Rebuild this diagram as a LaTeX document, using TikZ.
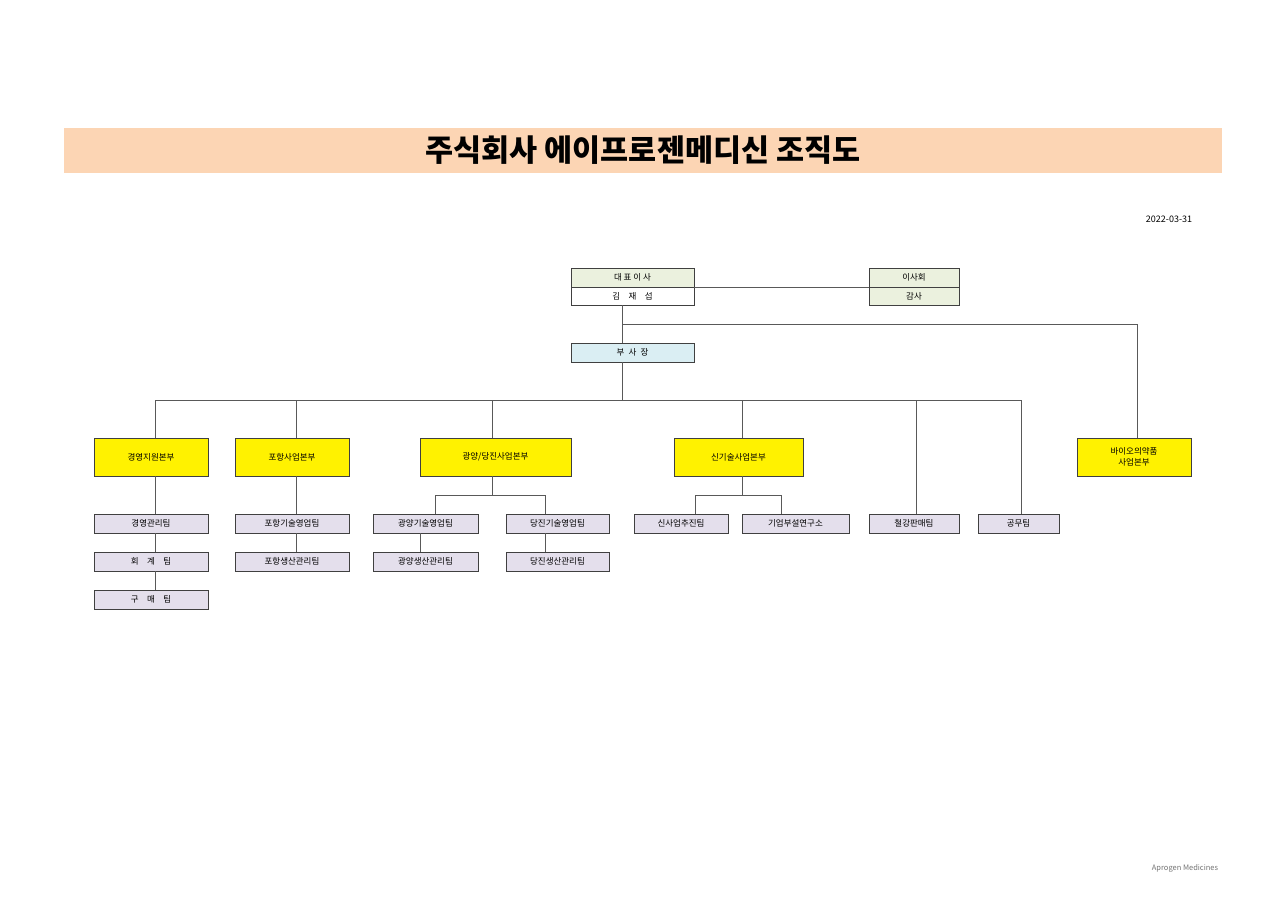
\documentclass[tikz,border=0pt]{standalone}
\usepackage{fontspec}
\setmainfont{Noto Sans CJK KR}
\begin{document}
\begin{tikzpicture}[x=1pt,y=-1pt,
 bx/.style={draw=black!75,line width=0.7pt,font=\fontsize{8.5}{10.5}\selectfont,inner sep=0pt,align=center},
 ln/.style={draw=black!65,line width=0.7pt}]
\definecolor{peach}{HTML}{FCD5B4}\definecolor{grn}{HTML}{EBF1DE}\definecolor{blu}{HTML}{DAEEF3}\definecolor{lav}{HTML}{E4DFEC}
\useasboundingbox (0,0) rectangle (1284,902);
\fill[peach] (64,128) rectangle (1222,173);
\node[font=\fontsize{30.5}{34}\selectfont\bfseries] (title) at (643,150) {주식회사 에이프로젠메디신 조직도};
\node[font=\fontsize{9}{10}\selectfont] (date) at (1169,219) {2022-03-31};
\node[font=\fontsize{7.5}{9}\selectfont,text=black!55] (foot) at (1185,868) {Aprogen Medicines};
\newcommand{\bxx}[7]{\node[bx,fill=#6,minimum width=#3-#2,minimum height=#5-#4] (#1) at ({(#2+#3)/2},{(#4+#5)/2}) {#7};}
% top
\bxx{ceo}{571}{694}{268}{287}{grn}{대 표 이 사}
\bxx{ceon}{571}{694}{287}{305}{white}{김\quad 재\quad 섭}
\bxx{brd}{869}{959}{268}{287}{grn}{이사회}
\bxx{aud}{869}{959}{287}{305}{grn}{감사}
\bxx{vp}{571}{694}{343}{362}{blu}{부\enspace 사\enspace 장}
\draw[ln] (ceo.south east) -- (brd.south west);
\coordinate (j1) at (622,324);
\draw[ln] (ceon.south -| j1) -- (vp.north -| j1);
% HQs
\bxx{h1}{94}{208}{438}{476}{yellow}{경영지원본부}
\bxx{h2}{235}{349}{438}{476}{yellow}{포항사업본부}
\bxx{h3}{420}{571}{438}{476}{yellow}{광양/당진사업본부}
\bxx{h4}{674}{803}{438}{476}{yellow}{신기술사업본부}
\bxx{h5}{1077}{1191}{438}{476}{yellow}{바이오의약품\\사업본부}
\draw[ln] (j1) -- (1137,324) -- (1137,438);
% teams
\bxx{t1}{94}{208}{514}{533}{lav}{경영관리팀}
\bxx{t2}{94}{208}{552}{571}{lav}{회\quad 계\quad 팀}
\bxx{t3}{94}{208}{590}{609}{lav}{구\quad 매\quad 팀}
\bxx{p1}{235}{349}{514}{533}{lav}{포항기술영업팀}
\bxx{p2}{235}{349}{552}{571}{lav}{포항생산관리팀}
\bxx{g1}{373}{478}{514}{533}{lav}{광양기술영업팀}
\bxx{g2}{373}{478}{552}{571}{lav}{광양생산관리팀}
\bxx{d1}{506}{609}{514}{533}{lav}{당진기술영업팀}
\bxx{d2}{506}{609}{552}{571}{lav}{당진생산관리팀}
\bxx{n1}{634}{728}{514}{533}{lav}{신사업추진팀}
\bxx{n2}{742}{849}{514}{533}{lav}{기업부설연구소}
\bxx{s1}{869}{959}{514}{533}{lav}{철강판매팀}
\bxx{s2}{978}{1059}{514}{533}{lav}{공무팀}
% bus
\draw[ln] (622,362) -- (622,400);
\draw[ln] (155,400) -- (1021,400);
\foreach \x in {155,296,492,742}{\draw[ln] (\x,400) -- (\x,438);}
\foreach \x in {916,1021}{\draw[ln] (\x,400) -- (\x,514);}
\draw[ln] (155,476) -- (155,514); \draw[ln] (155,533) -- (155,552); \draw[ln] (155,571) -- (155,590);
\draw[ln] (296,476) -- (296,514); \draw[ln] (296,533) -- (296,552);
\draw[ln] (492,476) -- (492,495);
\draw[ln] (435,514) -- (435,495) -- (545,495) -- (545,514);
\draw[ln] (420,533) -- (420,552);
\draw[ln] (545,533) -- (545,552);
\draw[ln] (742,476) -- (742,495);
\draw[ln] (695,514) -- (695,495) -- (781,495) -- (781,514);
\end{tikzpicture}
\end{document}
